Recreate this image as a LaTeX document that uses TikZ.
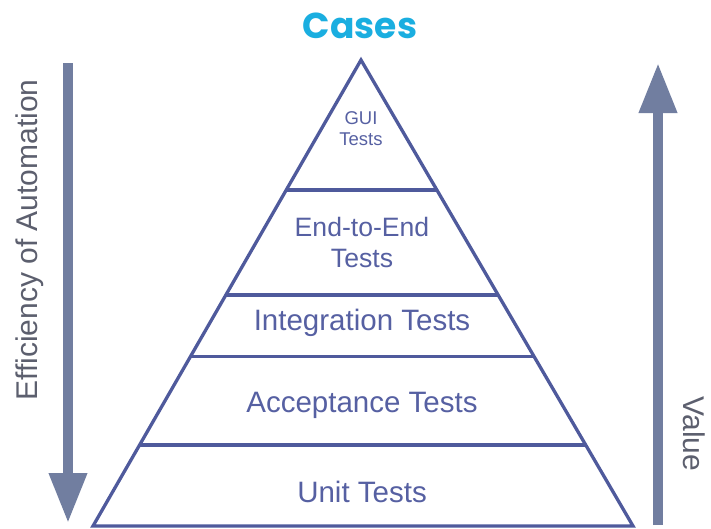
\documentclass[tikz,border=0pt]{standalone}
\usepackage{fontspec}
\setmainfont{Liberation Sans}
\newfontfamily\casesfont{Poppins}
\definecolor{pyramidBlue}{HTML}{4F5A9C}
\definecolor{pyramidText}{HTML}{5660A2}
\definecolor{arrowGray}{HTML}{717EA0}
\definecolor{sideGray}{HTML}{5C5F6E}
\definecolor{casesCyan}{HTML}{1AAEE0}
\usetikzlibrary{
  positioning,
  calc,
  arrows.meta
}

\begin{document}
\begin{tikzpicture}[
    x = 1pt, y = -1pt,
    % Pyramid.
    level/.style = {
      draw = pyramidBlue,
      line width = 3.3pt
    },
    level label/.style = {
      text = pyramidText,
      inner sep = 0,
      font = \fontsize{29.5}{31}\selectfont
    },
    % Side arrows.
    side arrow/.style = {
      draw = arrowGray,
      line width = 10pt,
      -{Triangle[length = 50pt, width = 36pt, fill = arrowGray]}
    },
    side label/.style = {
      text = sideGray,
      inner sep = 0,
      font = \fontsize{30}{34}\selectfont
    }
  ]
  \useasboundingbox (0,0) rectangle (711,528);

  % Title.
  \node[anchor = base, inner sep = 0, text = casesCyan,
    font = \casesfont\bfseries\fontsize{36}{40}\selectfont] (cases) at (360,38) {Cases};

  % Pyramid.
  \coordinate (apex) at (361,60);
  \coordinate (bl) at (93,526);
  \coordinate (br) at (633,526);
  \draw[level] (apex) -- (bl) -- (br) -- cycle;
  \foreach \pos in {0.279, 0.504, 0.637, 0.826} {
    \draw[level] ($(apex)!\pos!(bl)$) -- ($(apex)!\pos!(br)$);
  }

  % Levels.
  \node[level label, align = center, font = \fontsize{18.5}{21}\selectfont] (gui) at (361,129) {GUI\\Tests};
  \node[level label, align = center, font = \fontsize{26.6}{31}\selectfont] (e2e) at (362,242.5) {End-to-End\\Tests};
  \node[level label, anchor = base] (integ) at (362,330) {Integration Tests};
  \node[level label, anchor = base] (accept) at (362,412) {Acceptance Tests};
  \node[level label, anchor = base] (unit) at (362,502) {Unit Tests};

  % Side arrows.
  \coordinate (effTop) at (68,63);
  \coordinate (effEnd) at (68,523);
  \draw[side arrow] (effTop) -- (effEnd);
  \node[side label, anchor = base, rotate = 90] (eff) at (37,240) {Efficiency of Automation};

  \coordinate (valBottom) at (658,525);
  \coordinate (valEnd) at (658,63);
  \draw[side arrow] (valBottom) -- (valEnd);
  \node[side label, anchor = base, rotate = -90] (value) at (683,434) {Value};
\end{tikzpicture}
\end{document}
